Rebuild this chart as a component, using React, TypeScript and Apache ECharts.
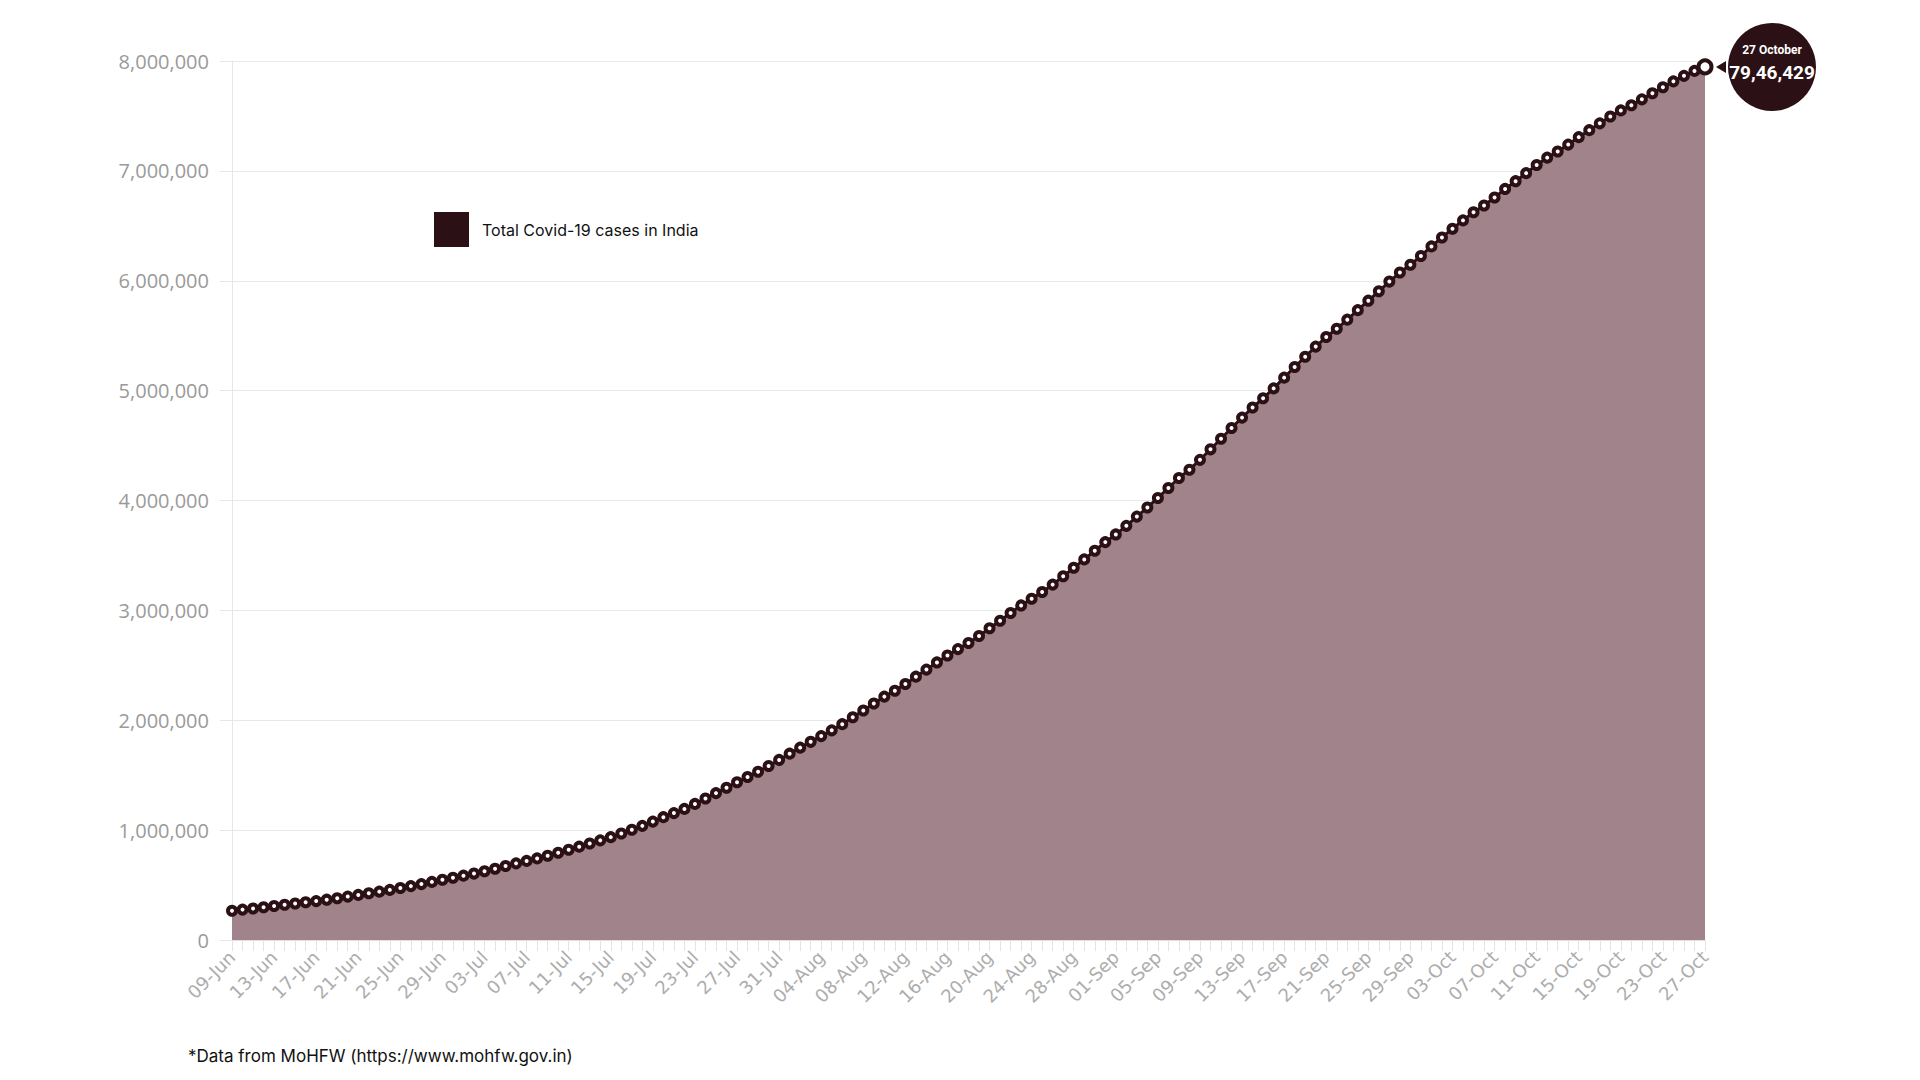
import React, { useEffect, useRef } from "react";
import * as echarts from "echarts";

// Cumulative confirmed cases (MoHFW), 2020
const junValues = [266598, 276583, 286579, 297535, 308993, 320922, 332424, 343091, 354065, 366946, 380532, 395048, 410461, 425282, 440215, 456183, 473105, 490401, 508953, 528859, 548318, 566840];
const julValues = [585493, 604641, 625544, 648315, 673165, 697413, 719665, 742417, 767296, 793802, 820916, 849553, 878254, 906752, 936181, 968876, 1003832, 1038716, 1077618, 1118043, 1155191, 1193078, 1238635, 1287945, 1336861, 1385522, 1435453, 1483156, 1531669, 1583792, 1638870];
const augValues = [1695988, 1750723, 1803695, 1855745, 1908254, 1964536, 2027074, 2088611, 2153010, 2215074, 2268675, 2329638, 2396637, 2461190, 2526192, 2589682, 2647663, 2702742, 2767273, 2836925, 2905823, 2975701, 3044940, 3106348, 3167323, 3234474, 3310234, 3387500, 3463972, 3542733, 3621245];
const sepValues = [3691166, 3769523, 3853406, 3936747, 4023179, 4113811, 4204613, 4280422, 4370128, 4465863, 4562414, 4659984, 4754356, 4846427, 4930236, 5020359, 5118253, 5214677, 5308014, 5400619, 5487580, 5562663, 5646010, 5732518, 5818570, 5903932, 5992532, 6074702, 6145291, 6225763];
const octValues = [6312584, 6394068, 6473544, 6549373, 6623815, 6685082, 6757131, 6835655, 6906151, 6979423, 7053806, 7120538, 7175880, 7239389, 7307097, 7370468, 7432680, 7494551, 7550273, 7597063, 7651107, 7706946, 7761312, 7814682, 7864811, 7909959, 7946429];

const months = [
  { name: "Jun", firstDay: 9, values: junValues },
  { name: "Jul", firstDay: 1, values: julValues },
  { name: "Aug", firstDay: 1, values: augValues },
  { name: "Sep", firstDay: 1, values: sepValues },
  { name: "Oct", firstDay: 1, values: octValues },
];

const seriesName = "Total Covid-19 cases in India";
const calloutDate = "27 October";
const calloutValue = "79,46,429";
const footnote = "*Data from MoHFW (https://www.mohfw.gov.in)";

const categories: string[] = [];
const values: number[] = [];
months.forEach((m) => {
  m.values.forEach((v, i) => {
    const d = m.firstDay + i;
    categories.push((d < 10 ? "0" + d : "" + d) + "-" + m.name);
    values.push(v);
  });
});

const DARK = "#2b1115";
const AREA = "#a1848b";

export default function App() {
  const ref = useRef<HTMLDivElement>(null);
  useEffect(() => {
    document.body.style.margin = "0";
    if (!ref.current) return;
    const chart = echarts.init(ref.current, null, { renderer: "svg" });
    const lastIdx = values.length - 1;
    const data = values.map((v, i) =>
      i === lastIdx ? { value: v, symbolSize: 13 } : v
    );
    chart.setOption({
      animation: false,
      backgroundColor: "#ffffff",
      grid: { left: 232, right: 215, top: 61, bottom: 140, containLabel: false },
      legend: {
        left: 429,
        top: 207,
        itemWidth: 35,
        itemHeight: 35,
        icon: "rect",
        data: [{ name: seriesName, itemStyle: { color: DARK, borderWidth: 0 } }],
        textStyle: {
          fontFamily: "Inter, Roboto, sans-serif",
          fontSize: 16,
          color: "#111",
          padding: [0, 0, 0, 8],
        },
      },
      xAxis: {
        type: "category",
        data: categories,
        boundaryGap: false,
        axisLine: { show: true, lineStyle: { color: "#e2e2e2", width: 1 } },
        axisTick: { show: true, interval: 0, length: 11, lineStyle: { color: "#e4e4e4" } },
        axisLabel: {
          interval: 3,
          rotate: 45,
          margin: 14,
          fontFamily: "DejaVu Sans, sans-serif",
          fontSize: 18,
          color: "#adadad",
        },
        splitLine: { show: false },
      },
      yAxis: {
        type: "value",
        min: 0,
        max: 8000000,
        interval: 1000000,
        axisLine: { show: true, lineStyle: { color: "#e6e6e6" } },
        axisTick: { show: true, length: 12, lineStyle: { color: "#e6e6e6" } },
        axisLabel: {
          margin: 23,
          fontFamily: "Open Sans, sans-serif",
          fontSize: 20,
          color: "#9a9a9a",
          formatter: (v: number) => v.toLocaleString("en-US"),
        },
        splitLine: { show: true, lineStyle: { color: "#e8e8e8", width: 1 } },
      },
      series: [
        {
          name: seriesName,
          type: "line",
          data,
          symbol: "circle",
          symbolSize: 8,
          showAllSymbol: true,
          lineStyle: { color: DARK, width: 3 },
          itemStyle: { color: "#ffffff", borderColor: DARK, borderWidth: 4 },
          areaStyle: { color: AREA, opacity: 1 },
          z: 3,
          markPoint: {
            silent: true,
            data: [
              {
                coord: [categories[lastIdx], values[lastIdx]],
                symbol: "circle",
                symbolSize: 88,
                symbolOffset: [67, 0],
                itemStyle: { color: DARK, borderWidth: 0 },
                label: {
                  show: true,
                  position: "inside",
                  offset: [0, -5],
                  formatter: "{a|" + calloutDate + "}\n{b|" + calloutValue + "}",
                  rich: {
                    a: {
                      fontFamily: "Roboto, sans-serif",
                      fontSize: 12,
                      fontWeight: "bold",
                      color: "#ffffff",
                      lineHeight: 22,
                    },
                    b: {
                      fontFamily: "Roboto, sans-serif",
                      fontSize: 19,
                      fontWeight: "bold",
                      color: "#ffffff",
                      lineHeight: 24,
                    },
                  },
                },
              },
              {
                coord: [categories[lastIdx], values[lastIdx]],
                symbol: "triangle",
                symbolSize: [12, 10],
                symbolRotate: 90,
                symbolOffset: [16, 0],
                itemStyle: { color: DARK, borderWidth: 0 },
                label: { show: false },
              },
            ],
          },
        },
      ],
      graphic: [
        {
          type: "text",
          left: 188,
          top: 1047,
          style: {
            text: footnote,
            fontFamily: "Inter, Roboto, sans-serif",
            fontSize: 17,
            fill: "#111",
          },
        },
      ],
    });
    return () => chart.dispose();
  }, []);
  return <div ref={ref} style={{ width: 1920, height: 1080 }} />;
}
